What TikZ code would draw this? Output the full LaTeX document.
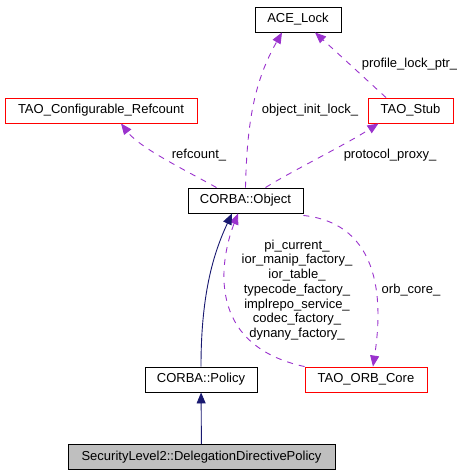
\documentclass[tikz,border=0pt]{standalone}
\usepackage{fontspec}
\setmainfont{Liberation Sans}
\usepackage{tikz}
\usetikzlibrary{arrows.meta, positioning}
\definecolor{usesPurple}{HTML}{9A32CD}
\definecolor{baseNavy}{HTML}{191970}
\definecolor{mainGray}{HTML}{BFBFBF}
\tikzstyle{classNode} = [rectangle, draw=black, line width=0.9pt, minimum height=25pt, inner sep=0pt, font=\fontsize{13}{14.7}\selectfont]
\tikzstyle{undocNode} = [classNode, draw=red]
\tikzstyle{mainNode} = [classNode, fill=mainGray]
\tikzstyle{usesLink} = [draw=usesPurple, line width=0.9pt, dash pattern=on 6pt off 6pt, -{Triangle[length=11pt,width=9pt]}]
\tikzstyle{baseLink} = [draw=baseNavy, line width=0.9pt, -{Triangle[length=11pt,width=9pt]}]
\tikzstyle{linkLabel} = [inner sep=0pt, align=center, font=\fontsize{13}{14.7}\selectfont]

\begin{document}
\begin{tikzpicture}[x=1pt, y=-1pt]
                    \useasboundingbox (0,0) rectangle (457,475);
                    \node (lock) [classNode, minimum width=86pt] at (298,19.5) {ACE\_Lock};
                    \node (stub) [undocNode, minimum width=85pt] at (410.5,110.5) {TAO\_Stub};
                    \node (refcnt) [undocNode, minimum width=192pt] at (101,110.5) {TAO\_Configurable\_Refcount};
                    \node (object) [classNode, minimum width=115pt] at (245.5,200.5) {CORBA::Object};
                    \node (policy) [classNode, minimum width=112pt] at (201,379.5) {CORBA::Policy};
                    \node (orbcore) [undocNode, minimum width=122pt] at (366,379.5) {TAO\_ORB\_Core};
                    \node (secpol) [mainNode, minimum width=267pt] at (201.5,457) {SecurityLevel2::DelegationDirectivePolicy};
                    \node (l1) [linkLabel] at (409.5,64) {profile\_lock\_ptr\_};
                    \node (l2) [linkLabel] at (310,110) {object\_init\_lock\_};
                    \node (l3) [linkLabel] at (199,155) {refcount\_};
                    \node (l4) [linkLabel] at (390,155) {protocol\_proxy\_};
                    \node (l5) [linkLabel] at (297,290) {pi\_current\_\\ior\_manip\_factory\_\\ior\_table\_\\typecode\_factory\_\\implrepo\_service\_\\codec\_factory\_\\dynany\_factory\_};
                    \node (l6) [linkLabel] at (411,290) {orb\_core\_};
                    \draw [usesLink] (object.north) .. controls (247,120) and (255,80) .. ([xshift=-16pt]lock.south);
                    \draw [usesLink] ([xshift=-24.5pt]stub.north) -- ([xshift=17pt]lock.south);
                    \draw [usesLink] ([xshift=-29pt]object.north) .. controls (185,170) and (140,148) .. ([xshift=20pt]refcnt.south);
                    \draw [usesLink] ([xshift=20pt]object.north) .. controls (290,172) and (345,145) .. ([xshift=-32pt]stub.south);
                    \draw [usesLink] ([yshift=-2pt]object.south east) .. controls (390,225) and (380,320) .. ([xshift=7pt]orbcore.north);
                    \draw [usesLink] (orbcore.north west) .. controls (205,345) and (220,260) .. ([xshift=-7.5pt]object.south);
                    \draw [baseLink] (policy.north) .. controls (201,290) and (215,250) .. ([xshift=-13.5pt]object.south);
                    \draw [baseLink] (secpol) -- (policy);
                \end{tikzpicture}
\end{document}
